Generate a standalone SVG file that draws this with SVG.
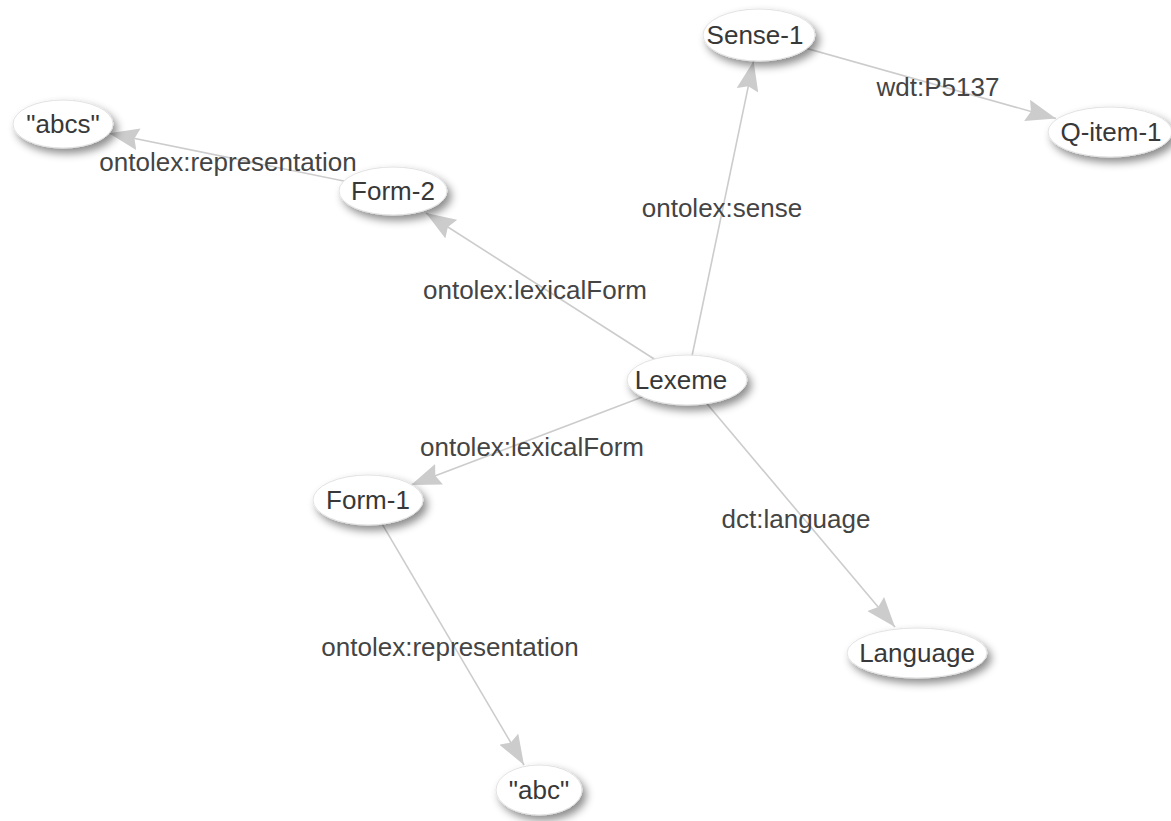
<svg xmlns="http://www.w3.org/2000/svg" width="1171" height="821" viewBox="0 0 1171 821">
  <defs>
    <filter id="shadow" x="-30%" y="-40%" width="170%" height="200%">
      <feDropShadow dx="4" dy="5" stdDeviation="4.5" flood-color="#000" flood-opacity="0.45"/>
    </filter>
    <marker id="arrow" markerWidth="30" markerHeight="22" refX="30" refY="11" orient="auto" markerUnits="userSpaceOnUse">
      <path d="M0,0 L30,11 L0,22 L4,11 Z" fill="#cccccc"/>
    </marker>
    <style>
      .edge { stroke: #cccccc; stroke-width: 1.6; fill: none; marker-end: url(#arrow); }
      .elabel { font-family: "Liberation Sans", Arial, sans-serif; font-size: 26px; fill: #444; text-anchor: middle; }
      .node ellipse { fill: #ffffff; stroke: #e2e2e2; stroke-width: 1; filter: url(#shadow); }
      .node text { font-family: "Liberation Sans", Arial, sans-serif; font-size: 26px; fill: #383838; text-anchor: middle; }
    </style>
  </defs>
  <rect width="1171" height="821" fill="#ffffff"/>

  <!-- connectors -->
  <g id="edges">
    <line class="edge" x1="687" y1="380" x2="753.6" y2="60.9"/>
    <line class="edge" x1="759" y1="35" x2="1056" y2="118.5"/>
    <line class="edge" x1="393" y1="191" x2="109" y2="133.3"/>
    <line class="edge" x1="687" y1="380" x2="426" y2="213"/>
    <line class="edge" x1="687" y1="380" x2="411" y2="485"/>
    <line class="edge" x1="368" y1="500" x2="524" y2="765"/>
    <line class="edge" x1="687" y1="380" x2="895" y2="627"/>
  </g>

  <!-- connector labels -->
  <g id="edge-labels">
    <text class="elabel" x="722" y="217">ontolex:sense</text>
    <text class="elabel" x="938" y="96">wdt:P5137</text>
    <text class="elabel" x="228" y="171">ontolex:representation</text>
    <text class="elabel" x="535" y="299">ontolex:lexicalForm</text>
    <text class="elabel" x="532" y="456">ontolex:lexicalForm</text>
    <text class="elabel" x="796" y="528">dct:language</text>
    <text class="elabel" x="450" y="656">ontolex:representation</text>
  </g>

  <!-- nodes -->
  <g id="node-sense1" class="node">
    <ellipse cx="759" cy="35" rx="56" ry="26"/>
    <text x="755" y="44">Sense-1</text>
  </g>
  <g id="node-qitem1" class="node">
    <ellipse cx="1110" cy="132" rx="62" ry="25"/>
    <text x="1111" y="141">Q-item-1</text>
  </g>
  <g id="node-abcs" class="node">
    <ellipse cx="63" cy="124" rx="50" ry="24"/>
    <text x="63" y="133">"abcs"</text>
  </g>
  <g id="node-form2" class="node">
    <ellipse cx="393" cy="191" rx="54" ry="24"/>
    <text x="393" y="200">Form-2</text>
  </g>
  <g id="node-lexeme" class="node">
    <ellipse cx="687" cy="380" rx="60" ry="25"/>
    <text x="681" y="389">Lexeme</text>
  </g>
  <g id="node-form1" class="node">
    <ellipse cx="368" cy="500" rx="55" ry="25"/>
    <text x="368" y="509">Form-1</text>
  </g>
  <g id="node-language" class="node">
    <ellipse cx="917" cy="653" rx="70" ry="25"/>
    <text x="917" y="662">Language</text>
  </g>
  <g id="node-abc" class="node">
    <ellipse cx="539" cy="790" rx="43" ry="25"/>
    <text x="539" y="799">"abc"</text>
  </g>
</svg>
